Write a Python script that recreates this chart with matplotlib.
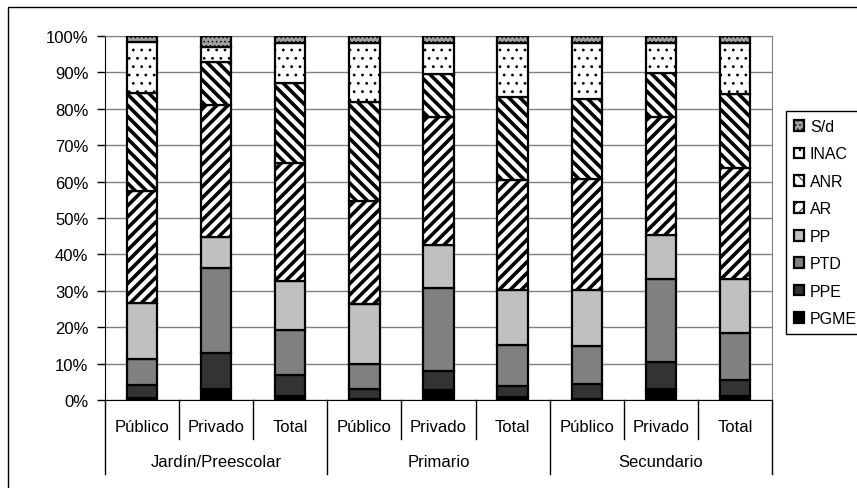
import matplotlib.pyplot as plt
from matplotlib.patches import Rectangle
from matplotlib.lines import Line2D

# categorias del eje x (dos niveles)
sectores = ['Público', 'Privado', 'Total'] * 3
niveles = ['Jardín/Preescolar', 'Primario', 'Secundario']

# porcentajes por serie (de abajo hacia arriba en cada barra)
pgme = [0.5, 2.9, 1.1, 0.4, 2.7, 0.8, 0.4, 3.1, 1.1]
ppe = [3.5, 9.9, 5.7, 2.5, 5.2, 3.0, 4.1, 7.3, 4.4]
ptd = [7.2, 23.6, 12.4, 7.1, 22.8, 11.2, 10.2, 22.9, 12.8]
pp = [15.5, 8.5, 13.5, 16.5, 11.8, 15.1, 15.4, 12.0, 15.0]
ar = [30.7, 36.1, 32.5, 28.3, 35.2, 30.3, 30.5, 32.4, 30.5]
anr = [27.0, 11.9, 22.0, 27.1, 11.8, 22.8, 22.0, 12.2, 20.4]
inac = [14.0, 4.2, 10.8, 16.3, 8.7, 15.0, 15.6, 8.3, 14.0]
sd = [1.6, 2.9, 2.0, 1.8, 1.8, 1.8, 1.8, 1.8, 1.8]

series = [('PGME', pgme), ('PPE', ppe), ('PTD', ptd), ('PP', pp),
          ('AR', ar), ('ANR', anr), ('INAC', inac), ('S/d', sd)]

# estilo de cada serie: (relleno, trama, grosor de trama)
estilos = {
    'PGME': ('#000000', None, 1.0),
    'PPE': ('#333333', None, 1.0),
    'PTD': ('#808080', None, 1.0),
    'PP': ('#c0c0c0', None, 1.0),
    'AR': ('#ffffff', '///', 2.6),
    'ANR': ('#ffffff', '\\\\\\', 2.6),
    'INAC': ('#ffffff', '..', 0.8),
    'S/d': ('#a0a0a0', '....', 0.6),
}

plt.rcParams['font.family'] = ['Liberation Sans', 'DejaVu Sans']

fig = plt.figure(figsize=(8.57, 4.89), dpi=100)
ax = fig.add_axes([105 / 857, 1 - 401 / 489, 667 / 857, 364 / 489])

x = list(range(len(sectores)))
base = [0.0] * len(x)
handles = []
for nombre, vals in series:
    color, trama, hlw = estilos[nombre]
    plt.rcParams['hatch.linewidth'] = hlw
    barras = ax.bar(x, vals, 0.41, bottom=base, color=color, hatch=trama,
                    edgecolor='black', linewidth=1.6, label=nombre, zorder=3)
    handles.append(barras)
    base = [b + v for b, v in zip(base, vals)]

ax.set_xlim(-0.5, len(x) - 0.5)
ax.set_ylim(0, 100)
ax.set_yticks(range(0, 101, 10))
ax.set_yticklabels([f'{v}%' for v in range(0, 101, 10)], fontsize=12)
ax.yaxis.grid(True, color='#808080', linewidth=1)
ax.set_axisbelow(True)
ax.tick_params(axis='y', direction='out', length=6, width=1, pad=6)
ax.set_xticks([])
ax.spines['top'].set_color('#808080')
ax.spines['right'].set_color('#808080')

# etiquetas de categorias en dos niveles
tr = ax.get_xaxis_transform()
for i, s in enumerate(sectores):
    ax.text(i, -0.074, s, transform=tr, ha='center', va='center', fontsize=12)
for i in range(1, len(x)):
    if i % 3 != 0:
        ax.add_line(Line2D([i - 0.5, i - 0.5], [0, -0.107], transform=tr,
                           color='black', linewidth=1, clip_on=False))
for g, n in enumerate(niveles):
    ax.text(g * 3 + 1, -0.168, n, transform=tr, ha='center', va='center', fontsize=12)
for g in range(4):
    ax.add_line(Line2D([g * 3 - 0.5, g * 3 - 0.5], [0, -0.203], transform=tr,
                       color='black', linewidth=1, clip_on=False))

# leyenda (orden invertido como en la barra)
leg = fig.legend(handles[::-1], [n for n, _ in series][::-1],
                 loc='upper left', bbox_to_anchor=(786 / 857, 1 - 112 / 489),
                 bbox_transform=fig.transFigure, fontsize=11.5, frameon=True,
                 fancybox=False, framealpha=1, edgecolor='black',
                 handlelength=0.65, handleheight=0.65, handletextpad=0.35,
                 labelspacing=0.78, borderpad=0.5, borderaxespad=0)
leg.get_frame().set_linewidth(1)

# borde exterior del grafico
fig.patches.append(Rectangle((8 / 857, -0.1), 1.2, 1.1 - 8 / 489, transform=fig.transFigure,
                             fill=False, edgecolor='black', linewidth=1))

fig.savefig('out.png', dpi=100)
